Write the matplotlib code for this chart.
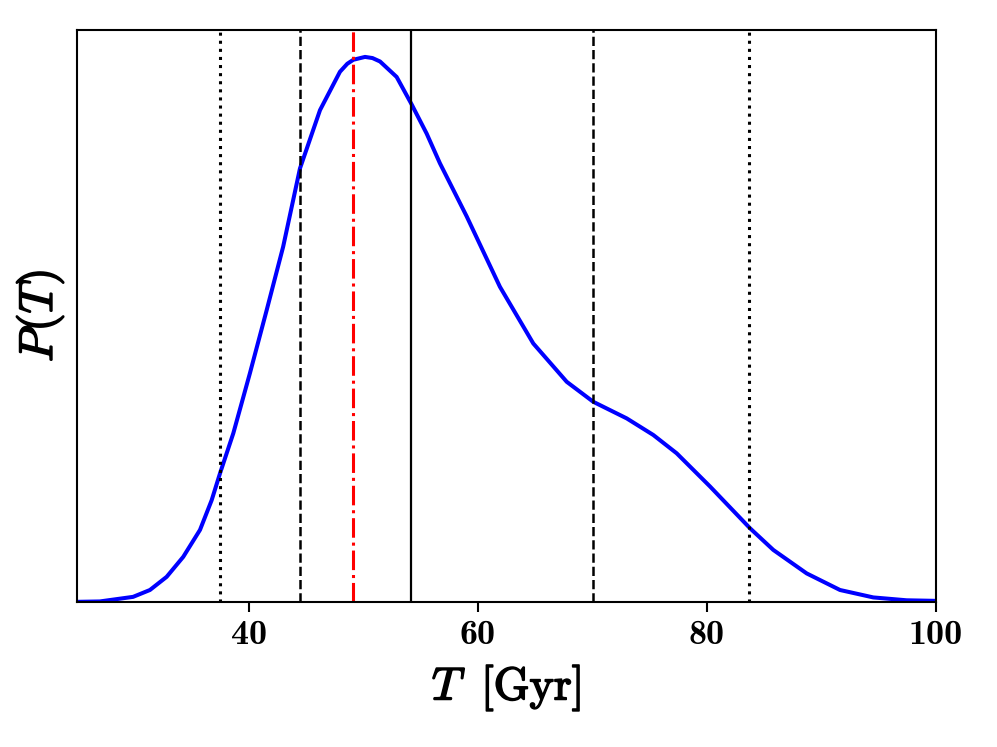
import numpy as np
import matplotlib.pyplot as plt
from matplotlib import patheffects as pe

plt.rcParams['mathtext.fontset'] = 'cm'

# posterior curve (normalised so the axis top is 1)
T = [25, 27.0, 29.9, 31.37, 32.83, 34.28, 35.74, 36.76, 37.49, 38.65, 40.1,
     41.56, 43.0, 44.47, 46.22, 47.96, 48.6, 49.13, 50.15, 50.8, 51.46, 52.91,
     54.22, 55.53, 56.69, 59.03, 61.93, 64.84, 67.76, 70.08, 73.0, 75.32,
     77.36, 80.27, 83.76, 85.8, 88.71, 91.62, 94.53, 97.44, 100]
P = [0.0003, 0.001, 0.009, 0.021, 0.044, 0.079, 0.126, 0.178, 0.225, 0.295,
     0.400, 0.510, 0.621, 0.758, 0.860, 0.927, 0.941, 0.948, 0.953, 0.951,
     0.945, 0.918, 0.870, 0.819, 0.767, 0.674, 0.551, 0.452, 0.385, 0.350,
     0.321, 0.292, 0.260, 0.202, 0.129, 0.091, 0.050, 0.021, 0.008, 0.003,
     0.002]

median = 54.16
mode = 49.1
sig1 = [44.47, 70.05]
sig2 = [37.49, 83.67]
xticks = [40, 60, 80, 100]

fig = plt.figure(figsize=(9.97, 7.47), dpi=100)
ax = fig.add_axes([0.0772, 0.1941, 0.8616, 0.7657])

ax.plot(T, P, color='blue', lw=2.9, solid_joinstyle='round')
for v in sig2:
    ax.axvline(v, color='black', ls=':', lw=2.2)
for v in sig1:
    ax.axvline(v, color='black', ls='--', lw=1.8)
ax.axvline(median, color='black', ls='-', lw=1.6)
ax.axvline(mode, color='red', ls='-.', lw=2.2)

ax.set_xlim(25, 100)
ax.set_ylim(0, 1)
ax.set_yticks([])
ax.set_xticks(xticks)
ax.set_xticklabels([str(t) for t in xticks], family='cmb10', fontsize=26)
ax.tick_params(axis='x', length=7, width=1.5, pad=6)
for s in ax.spines.values():
    s.set_linewidth(1.5)

bold = [pe.withStroke(linewidth=1.2, foreground='black')]
ax.set_xlabel(r'$T\;\;[\mathrm{Gyr}]$', fontsize=33, labelpad=8, path_effects=bold)
ax.set_ylabel(r'$P(T)$', fontsize=34, labelpad=8, path_effects=bold)

fig.savefig('out.png', dpi=100)
